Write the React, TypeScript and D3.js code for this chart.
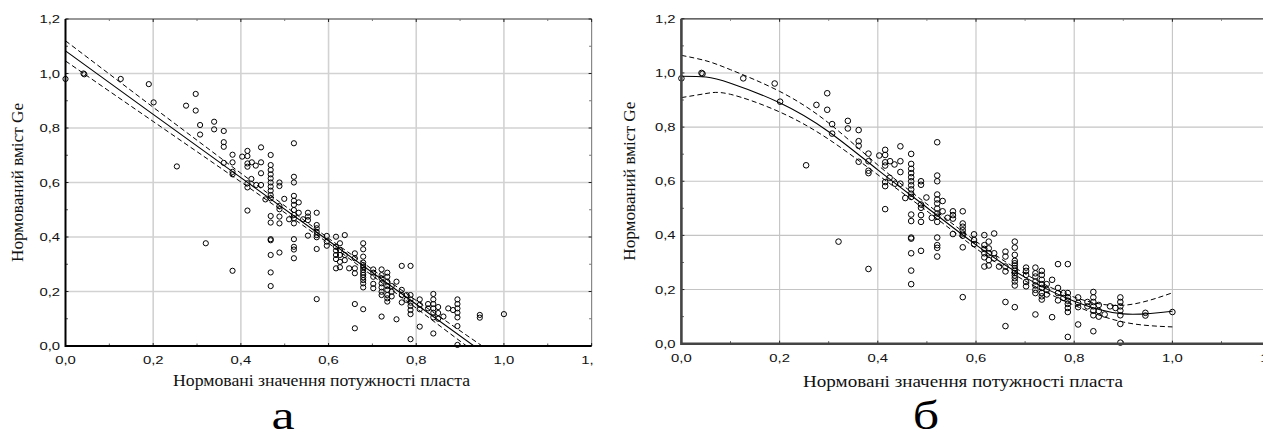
import React from "react";
import * as d3 from "d3";

// ---- scatter data (same observations in both panels) ----
const pointX = [
  0.0, 0.041, 0.043, 0.126, 0.19, 0.201, 0.254, 0.275, 0.297, 0.297, 0.307, 0.307, 0.339, 0.339,
  0.361, 0.361, 0.361, 0.361, 0.381, 0.381, 0.381, 0.381, 0.403, 0.415, 0.415, 0.415, 0.415,
  0.425, 0.434, 0.446, 0.446, 0.446, 0.415, 0.415, 0.424, 0.435, 0.446, 0.415, 0.456, 0.32, 0.381,
  0.468, 0.468, 0.468, 0.468, 0.468, 0.468, 0.468, 0.468, 0.468, 0.468, 0.468, 0.468, 0.468, 0.468, 0.468, 0.468, 0.468,
  0.488, 0.488, 0.488, 0.488, 0.488, 0.488, 0.488,
  0.499, 0.51,
  0.521, 0.521, 0.521, 0.521, 0.521, 0.521, 0.521, 0.521, 0.521, 0.521, 0.521, 0.521, 0.521, 0.521,
  0.532, 0.532, 0.542,
  0.553, 0.553, 0.553, 0.553,
  0.573, 0.573, 0.573, 0.573, 0.573, 0.573, 0.573, 0.573,
  0.596, 0.596, 0.596,
  0.617, 0.617, 0.617, 0.617, 0.617, 0.617,
  0.626, 0.626, 0.626, 0.626, 0.626,
  0.637, 0.637, 0.637, 0.647,
  0.66, 0.66, 0.66, 0.66, 0.66, 0.66,
  0.679, 0.679, 0.679, 0.679, 0.679, 0.679, 0.679, 0.679, 0.679, 0.679, 0.679, 0.679, 0.679, 0.679,
  0.702, 0.702, 0.702, 0.702, 0.702,
  0.721, 0.721, 0.721, 0.721, 0.721, 0.721, 0.721, 0.721,
  0.734, 0.734, 0.734, 0.734, 0.734, 0.734, 0.734, 0.734,
  0.744, 0.744, 0.744, 0.755, 0.755,
  0.767, 0.767, 0.767, 0.767, 0.778, 0.778,
  0.787, 0.787, 0.787, 0.787, 0.787, 0.787, 0.787, 0.787,
  0.808, 0.808, 0.808, 0.808, 0.827, 0.827,
  0.839, 0.839, 0.839, 0.839, 0.839, 0.839, 0.839,
  0.85, 0.85, 0.85, 0.862, 0.873, 0.884,
  0.894, 0.894, 0.894, 0.894, 0.894, 0.894, 0.894,
  0.945, 0.945, 1.0,
];
const pointY = [
  0.98, 1.0, 0.997, 0.98, 0.961, 0.894, 0.659, 0.882, 0.925, 0.864, 0.811, 0.776, 0.823, 0.795,
  0.789, 0.748, 0.731, 0.672, 0.702, 0.674, 0.639, 0.63, 0.695, 0.716, 0.697, 0.67, 0.658,
  0.674, 0.662, 0.729, 0.674, 0.634, 0.597, 0.582, 0.613, 0.591, 0.591, 0.497, 0.538, 0.377, 0.276,
  0.701, 0.664, 0.646, 0.63, 0.615, 0.6, 0.585, 0.57, 0.554, 0.542, 0.477, 0.453, 0.392, 0.388, 0.334, 0.27, 0.22,
  0.6, 0.587, 0.514, 0.502, 0.475, 0.45, 0.343,
  0.54, 0.465,
  0.744, 0.621, 0.6, 0.551, 0.533, 0.518, 0.499, 0.481, 0.469, 0.45, 0.392, 0.364, 0.354, 0.322,
  0.527, 0.489, 0.465,
  0.489, 0.475, 0.462, 0.405,
  0.489, 0.444, 0.432, 0.419, 0.407, 0.399, 0.356, 0.172,
  0.404, 0.383, 0.368,
  0.401, 0.364, 0.35, 0.334, 0.319, 0.285,
  0.377, 0.352, 0.334, 0.309, 0.289,
  0.407, 0.334, 0.315, 0.285,
  0.34, 0.322, 0.285, 0.267, 0.154, 0.065,
  0.377, 0.355, 0.328, 0.306, 0.297, 0.289, 0.279, 0.269, 0.261, 0.252, 0.242, 0.23, 0.215, 0.135,
  0.281, 0.269, 0.254, 0.228, 0.212,
  0.281, 0.26, 0.248, 0.23, 0.215, 0.199, 0.187, 0.108,
  0.269, 0.254, 0.236, 0.22, 0.206, 0.187, 0.175, 0.163,
  0.22, 0.199, 0.182, 0.236, 0.098,
  0.294, 0.206, 0.187, 0.16, 0.187, 0.169,
  0.294, 0.187, 0.171, 0.159, 0.147, 0.132, 0.117, 0.025,
  0.171, 0.151, 0.135, 0.071, 0.154, 0.138,
  0.191, 0.171, 0.154, 0.138, 0.122, 0.105, 0.046,
  0.143, 0.121, 0.1, 0.108, 0.138, 0.132,
  0.171, 0.154, 0.138, 0.122, 0.105, 0.073, 0.004,
  0.114, 0.104, 0.117,
];

// ---- axis ticks ----
const majorTicks = [0, 0.2, 0.4, 0.6, 0.8, 1.0, 1.2];
const minorTicks = [0.1, 0.3, 0.5, 0.7, 0.9, 1.1];
const tickLabels = ["0,0", "0,2", "0,4", "0,6", "0,8", "1,0", "1,2"];
const gridTicks = [0.2, 0.4, 0.6, 0.8, 1.0];

// ---- panel a: linear fit with confidence band ----
const linFitX = [0, 0.2, 0.4, 0.6, 0.8, 1.0];
const linFitY = [1.083, 0.85, 0.618, 0.386, 0.153, -0.079];
const linUpperY = [1.12, 0.876, 0.634, 0.395, 0.167, -0.055];
const linLowerY = [1.046, 0.824, 0.602, 0.377, 0.139, -0.103];

// ---- panel b: polynomial fit with confidence band ----
const polyFitX = [0, 0.05, 0.1, 0.2, 0.3, 0.4, 0.5, 0.6, 0.7, 0.8, 0.9, 1.0];
const polyFitY = [0.988, 0.985, 0.962, 0.89, 0.783, 0.642, 0.503, 0.365, 0.245, 0.157, 0.11, 0.12];
const polyUpperY = [1.065, 1.045, 1.012, 0.932, 0.815, 0.66, 0.516, 0.378, 0.258, 0.172, 0.142, 0.188];
const polyLowerY = [0.909, 0.924, 0.921, 0.856, 0.755, 0.624, 0.49, 0.352, 0.232, 0.142, 0.08, 0.062];

const SANS = "'Liberation Sans', Arial, sans-serif";
const SERIF = "'Liberation Serif', 'Times New Roman', serif";

type PanelProps = {
  id: string;
  xr: [number, number];
  yr: [number, number];
  clipW: number;
  axisColor: string;
  axisW: number;
  gridColor: string;
  gridW: number;
  fitX: number[];
  fitY: number[];
  upY: number[];
  loY: number[];
  curve: d3.CurveFactory;
  r: number;
  yLabelEnd: number;
  xLabelBase: number;
  xTitle: { x: number; y: number; len: number };
  yTitle: { x: number; len: number };
  letter: { x: number; t: string };
};

function Panel(p: PanelProps) {
  const x = d3.scaleLinear().domain([0, 1.2]).range(p.xr);
  const y = d3.scaleLinear().domain([0, 1.2]).range(p.yr);
  const [x0, x1] = p.xr;
  const [y0, y1] = p.yr;
  const mk = (ys: number[]) =>
    d3
      .line<number>()
      .x((_, i) => x(p.fitX[i]))
      .y((d) => y(d))
      .curve(p.curve)(ys) || "";
  const clipId = "plot-" + p.id;
  const panelClip = "panel-" + p.id;
  return (
    <g clipPath={`url(#${panelClip})`}>
      <defs>
        <clipPath id={clipId}>
          <rect x={x0} y={y1} width={x1 - x0} height={y0 - y1} />
        </clipPath>
        <clipPath id={panelClip}>
          <rect x={0} y={0} width={p.clipW} height={433} />
        </clipPath>
      </defs>
      {/* grid */}
      {gridTicks.map((t) => (
        <line key={"gx" + t} x1={x(t)} x2={x(t)} y1={y0} y2={y1} stroke={p.gridColor} strokeWidth={p.gridW} />
      ))}
      {gridTicks.map((t) => (
        <line key={"gy" + t} x1={x0} x2={x1} y1={y(t)} y2={y(t)} stroke={p.gridColor} strokeWidth={p.gridW} />
      ))}
      {/* frame: top and right */}
      <line x1={x0} x2={x1} y1={y1} y2={y1} stroke="#333" strokeWidth={1.2} />
      <line x1={x1} x2={x1} y1={y1} y2={y0} stroke="#888" strokeWidth={1.2} />
      {/* ticks */}
      {majorTicks.map((t) => (
        <g key={"mt" + t}>
          <line x1={x(t)} x2={x(t)} y1={y0} y2={y0 - 3} stroke="#222" />
          <line x1={x(t)} x2={x(t)} y1={y1} y2={y1 + 3} stroke="#222" />
          <line x1={x0} x2={x0 + 3} y1={y(t)} y2={y(t)} stroke="#222" />
          <line x1={x1} x2={x1 - 3} y1={y(t)} y2={y(t)} stroke="#222" />
        </g>
      ))}
      {minorTicks.map((t) => (
        <g key={"nt" + t}>
          <line x1={x(t)} x2={x(t)} y1={y0} y2={y0 - 2.5} stroke="#555" />
          <line x1={x(t)} x2={x(t)} y1={y1} y2={y1 + 2} stroke="#777" />
          <line x1={x0} x2={x0 + 2.5} y1={y(t)} y2={y(t)} stroke="#555" />
          <line x1={x1} x2={x1 - 2.5} y1={y(t)} y2={y(t)} stroke="#777" />
        </g>
      ))}
      {/* fitted lines */}
      <g clipPath={`url(#${clipId})`} fill="none" stroke="#000">
        <path d={mk(p.fitY)} strokeWidth={1.1} />
        <path d={mk(p.upY)} strokeWidth={1} strokeDasharray="5,3" />
        <path d={mk(p.loY)} strokeWidth={1} strokeDasharray="5,3" />
      </g>
      {/* points */}
      <g fill="none" stroke="#000" strokeWidth={1}>
        {pointX.map((px, i) => (
          <circle key={i} cx={x(px)} cy={y(pointY[i])} r={p.r} />
        ))}
      </g>
      {/* main axes */}
      <line x1={x0} x2={x1} y1={y0} y2={y0} stroke={p.axisColor} strokeWidth={p.axisW} />
      <line x1={x0} x2={x0} y1={y0 + p.axisW / 2} y2={y1} stroke={p.axisColor} strokeWidth={p.axisW} />
      {/* tick labels */}
      <g fontFamily={SANS} fontSize={11} fill="#111">
        {majorTicks.map((t, i) => (
          <text key={"xl" + t} transform={`translate(${x(t)},${p.xLabelBase}) scale(1.35,1)`} textAnchor="middle">
            {tickLabels[i]}
          </text>
        ))}
        {majorTicks.map((t, i) => (
          <text key={"yl" + t} transform={`translate(${p.yLabelEnd},${y(t) + 4}) scale(1.35,1)`} textAnchor="end">
            {tickLabels[i]}
          </text>
        ))}
      </g>
      {/* titles */}
      <text
        x={p.xTitle.x}
        y={p.xTitle.y}
        fontFamily={SERIF}
        fontSize={16.5}
        textAnchor="middle"
        textLength={p.xTitle.len}
        lengthAdjust="spacingAndGlyphs"
        fill="#111"
      >
        Нормовані значення потужності пласта
      </text>
      <text
        transform={`translate(${p.yTitle.x},${(y0 + y1) / 2}) rotate(-90)`}
        fontFamily={SERIF}
        fontSize={16.5}
        textAnchor="middle"
        textLength={p.yTitle.len}
        lengthAdjust="spacingAndGlyphs"
        fill="#111"
      >
        Нормований вміст Ge
      </text>
      <text
        transform={`translate(${p.letter.x},429) scale(1.3,1)`}
        fontFamily={SERIF}
        fontSize={40}
        textAnchor="middle"
        fill="#000"
      >
        {p.letter.t}
      </text>
    </g>
  );
}

export default function App() {
  return (
    <svg
      width={1263}
      height={433}
      viewBox="0 0 1263 433"
      style={{ position: "absolute", left: 0, top: 0, background: "#fff" }}
    >
      <rect x={0} y={0} width={1263} height={433} fill="#fff" />
      <Panel
        id="a"
        xr={[65.5, 591.6]}
        yr={[346, 19]}
        clipW={593}
        axisColor="#000"
        axisW={2}
        gridColor="#d2d2d2"
        gridW={1.6}
        fitX={linFitX}
        fitY={linFitY}
        upY={linUpperY}
        loY={linLowerY}
        curve={d3.curveLinear}
        r={2.6}
        yLabelEnd={60}
        xLabelBase={364}
        xTitle={{ x: 321.5, y: 386, len: 297 }}
        yTitle={{ x: 23, len: 159 }}
        letter={{ x: 283, t: "а" }}
      />
      <Panel
        id="b"
        xr={[681.4, 1270.6]}
        yr={[343.7, 18.8]}
        clipW={1263}
        axisColor="#444"
        axisW={2.6}
        gridColor="#c4c4c4"
        gridW={1.1}
        fitX={polyFitX}
        fitY={polyFitY}
        upY={polyUpperY}
        loY={polyLowerY}
        curve={d3.curveNatural}
        r={2.8}
        yLabelEnd={675.5}
        xLabelBase={362}
        xTitle={{ x: 963, y: 387, len: 320 }}
        yTitle={{ x: 635, len: 159 }}
        letter={{ x: 926, t: "б" }}
      />
    </svg>
  );
}
